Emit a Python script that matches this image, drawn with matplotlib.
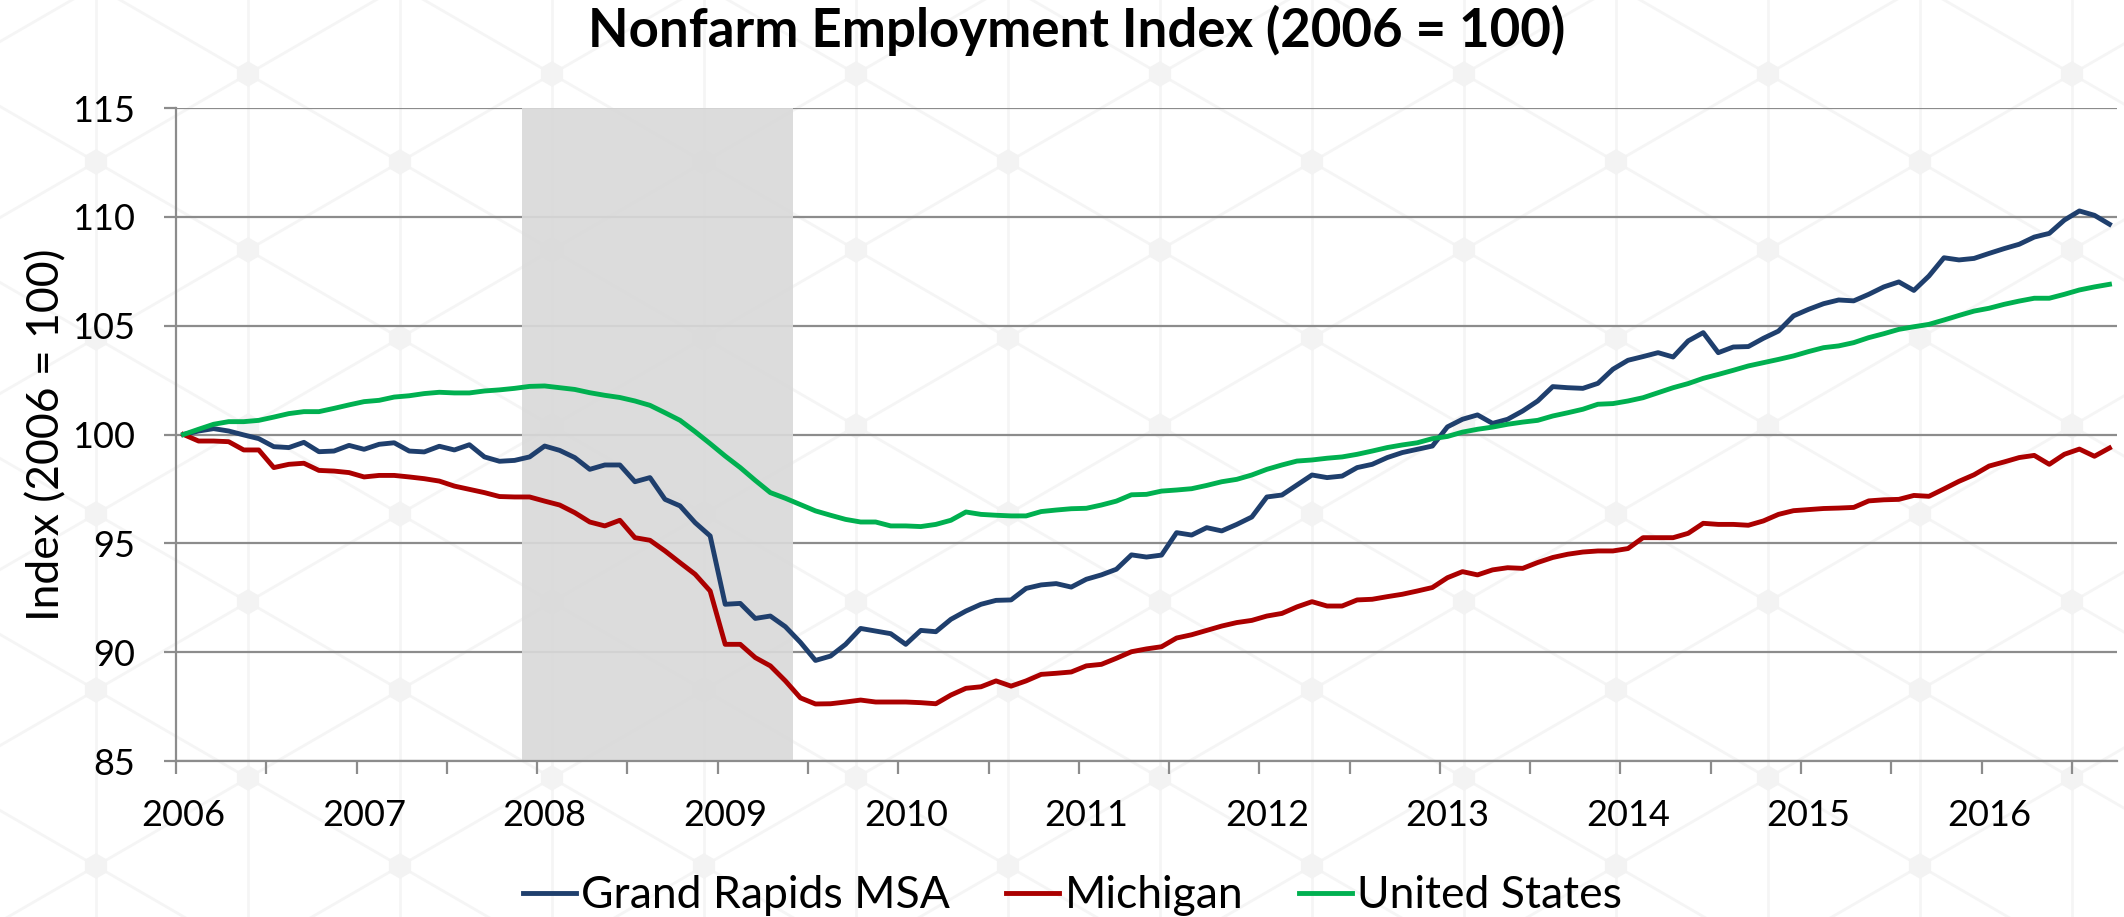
import numpy as np
import matplotlib
matplotlib.use("Agg")
import matplotlib.pyplot as plt
from matplotlib.patches import RegularPolygon

# monthly index values, Jan 2006 .. Sep 2016 (2006 = 100)
grand_rapids = [
    100.00, 100.16, 100.27, 100.16, 99.98, 99.81, 99.44, 99.40, 99.64, 99.21, 99.24, 99.50,
    99.32, 99.55, 99.62, 99.24, 99.20, 99.46, 99.29, 99.53, 98.97, 98.77, 98.81, 98.97,
    99.47, 99.27, 98.94, 98.40, 98.60, 98.60, 97.83, 98.02, 97.02, 96.72, 95.95, 95.34,
    92.20, 92.24, 91.55, 91.66, 91.17, 90.45, 89.62, 89.82, 90.36, 91.09, 90.97, 90.85,
    90.36, 91.00, 90.94, 91.51, 91.89, 92.20, 92.38, 92.40, 92.93, 93.09, 93.15, 92.99,
    93.35, 93.55, 93.81, 94.47, 94.37, 94.46, 95.49, 95.38, 95.72, 95.57, 95.87, 96.21,
    97.13, 97.22, 97.68, 98.14, 98.02, 98.09, 98.48, 98.63, 98.94, 99.17, 99.32, 99.47,
    100.35, 100.70, 100.90, 100.51, 100.70, 101.08, 101.54, 102.20, 102.15, 102.12, 102.35, 103.00,
    103.41, 103.58, 103.76, 103.56, 104.30, 104.68, 103.76, 104.02, 104.04, 104.42, 104.75, 105.45,
    105.75, 106.01, 106.18, 106.14, 106.44, 106.78, 107.01, 106.62, 107.28, 108.12, 108.02, 108.09,
    108.32, 108.54, 108.74, 109.07, 109.24, 109.85, 110.27, 110.07, 109.66,
]
michigan = [
    100.00, 99.70, 99.70, 99.67, 99.29, 99.29, 98.48, 98.63, 98.68, 98.35, 98.32, 98.25,
    98.05, 98.12, 98.12, 98.05, 97.97, 97.86, 97.63, 97.48, 97.33, 97.15, 97.13, 97.13,
    96.94, 96.76, 96.41, 95.98, 95.80, 96.06, 95.26, 95.14, 94.65, 94.11, 93.58, 92.81,
    90.36, 90.36, 89.75, 89.37, 88.68, 87.90, 87.62, 87.63, 87.71, 87.80, 87.71, 87.71,
    87.71, 87.68, 87.63, 88.03, 88.34, 88.41, 88.68, 88.44, 88.68, 88.98, 89.03, 89.09,
    89.37, 89.44, 89.72, 90.02, 90.15, 90.25, 90.65, 90.80, 91.00, 91.20, 91.36, 91.46,
    91.66, 91.78, 92.08, 92.32, 92.12, 92.12, 92.40, 92.43, 92.55, 92.66, 92.81, 92.97,
    93.42, 93.70, 93.55, 93.78, 93.88, 93.85, 94.12, 94.35, 94.50, 94.60, 94.65, 94.65,
    94.76, 95.26, 95.26, 95.26, 95.46, 95.92, 95.87, 95.87, 95.83, 96.03, 96.33, 96.50,
    96.55, 96.60, 96.62, 96.65, 96.95, 97.00, 97.02, 97.20, 97.16, 97.50, 97.85, 98.15,
    98.55, 98.74, 98.94, 99.04, 98.63, 99.09, 99.33, 99.00, 99.38,
]
united_states = [
    100.00, 100.24, 100.47, 100.59, 100.59, 100.65, 100.80, 100.96, 101.05, 101.05, 101.20, 101.36,
    101.51, 101.57, 101.72, 101.78, 101.88, 101.94, 101.91, 101.91, 102.00, 102.05, 102.12, 102.21,
    102.23, 102.15, 102.07, 101.92, 101.80, 101.70, 101.54, 101.34, 101.00, 100.65, 100.13, 99.58,
    99.01, 98.48, 97.89, 97.33, 97.07, 96.78, 96.49, 96.29, 96.10, 95.98, 95.98, 95.80,
    95.80, 95.77, 95.87, 96.06, 96.44, 96.33, 96.29, 96.26, 96.26, 96.46, 96.53, 96.59,
    96.61, 96.76, 96.94, 97.23, 97.25, 97.40, 97.45, 97.51, 97.66, 97.83, 97.94, 98.14,
    98.40, 98.60, 98.78, 98.83, 98.91, 98.97, 99.09, 99.24, 99.40, 99.52, 99.62, 99.81,
    99.91, 100.11, 100.24, 100.34, 100.47, 100.57, 100.65, 100.85, 101.00, 101.16, 101.39, 101.42,
    101.54, 101.69, 101.92, 102.15, 102.34, 102.58, 102.76, 102.95, 103.15, 103.30, 103.45, 103.61,
    103.81, 103.99, 104.07, 104.22, 104.45, 104.63, 104.83, 104.95, 105.06, 105.26, 105.47, 105.67,
    105.80, 105.98, 106.13, 106.26, 106.26, 106.44, 106.64, 106.78, 106.90,
]
years = list(range(2006, 2017))
recession = (22.5, 40.5)  # Dec 2007 - mid 2009, in month units

plt.rcParams['font.family'] = ['Lato', 'DejaVu Sans']

fig = plt.figure(figsize=(21.24, 9.17), dpi=100)

# faint hex watermark behind everything
bg = fig.add_axes([0, 0, 1, 1], zorder=-5)
bg.set_xlim(0, 2124)
bg.set_ylim(917, 0)
bg.axis('off')
wm = '#f5f5f5'
dx, dy = 152, 176
for i in range(-1, 16):
    x = 96 + i * dx
    bg.plot([x, x], [0, 917], color=wm, lw=2.0, zorder=0)
    y0 = 162 if i % 2 == 0 else 74
    for j in range(-2, 7):
        y = y0 + j * dy
        bg.plot([x, x + dx], [y, y + dy / 2], color=wm, lw=2.0, zorder=0)
        bg.plot([x, x + dx], [y, y - dy / 2], color=wm, lw=2.0, zorder=0)
        bg.add_patch(RegularPolygon((x, y), 6, radius=12, color='#f3f3f3', zorder=1))

ax = fig.add_axes([176 / 2124, 1 - 761 / 917, (2117 - 176) / 2124, (761 - 108) / 917])
ax.set_facecolor('none')

months = np.arange(len(united_states))
ax.axvspan(recession[0], recession[1], color='#d9d9d9', alpha=0.92, lw=0, zorder=1)

ax.plot(months, grand_rapids, color='#1f3f6d', lw=3.5, label='Grand Rapids MSA', zorder=4)
ax.plot(months, michigan, color='#ab0000', lw=3.5, label='Michigan', zorder=4)
ax.plot(months, united_states, color='#00b050', lw=3.5, label='United States', zorder=4)

ax.set_xlim(-0.5, len(united_states) - 0.5)
ax.set_ylim(85, 115)
ax.set_yticks(range(85, 116, 5))
ax.grid(axis='y', color='#8c8c8c', lw=1.6, zorder=0)
ax.set_axisbelow(True)

ax.set_xticks([12 * k for k in range(len(years))])
ax.set_xticklabels([str(y) for y in years])
ax.set_xticks(np.arange(-0.5, len(united_states) - 1, 6), minor=True)
ax.tick_params(axis='x', which='major', length=0, pad=27, labelsize=26)
ax.tick_params(axis='x', which='minor', length=9.5, width=1.6, color='#8c8c8c', direction='out')
ax.tick_params(axis='y', length=8.5, width=1.6, color='#8c8c8c', pad=21, labelsize=26)

for s in ['top', 'right']:
    ax.spines[s].set_visible(False)
for s in ['left', 'bottom']:
    ax.spines[s].set_color('#8c8c8c')
    ax.spines[s].set_linewidth(1.6)

ax.set_ylabel('Index (2006 = 100)', fontsize=32, labelpad=3)
fig.text(0.507, 0.967, 'Nonfarm Employment Index (2006 = 100)', ha='center', va='center',
         fontsize=38, fontweight='bold')

fig.legend(loc='center', bbox_to_anchor=(0.505, 0.023), ncol=3, frameon=False, fontsize=32,
           handlelength=1.2, handletextpad=0.12, columnspacing=1.25)

fig.savefig('out.png', dpi=100)
